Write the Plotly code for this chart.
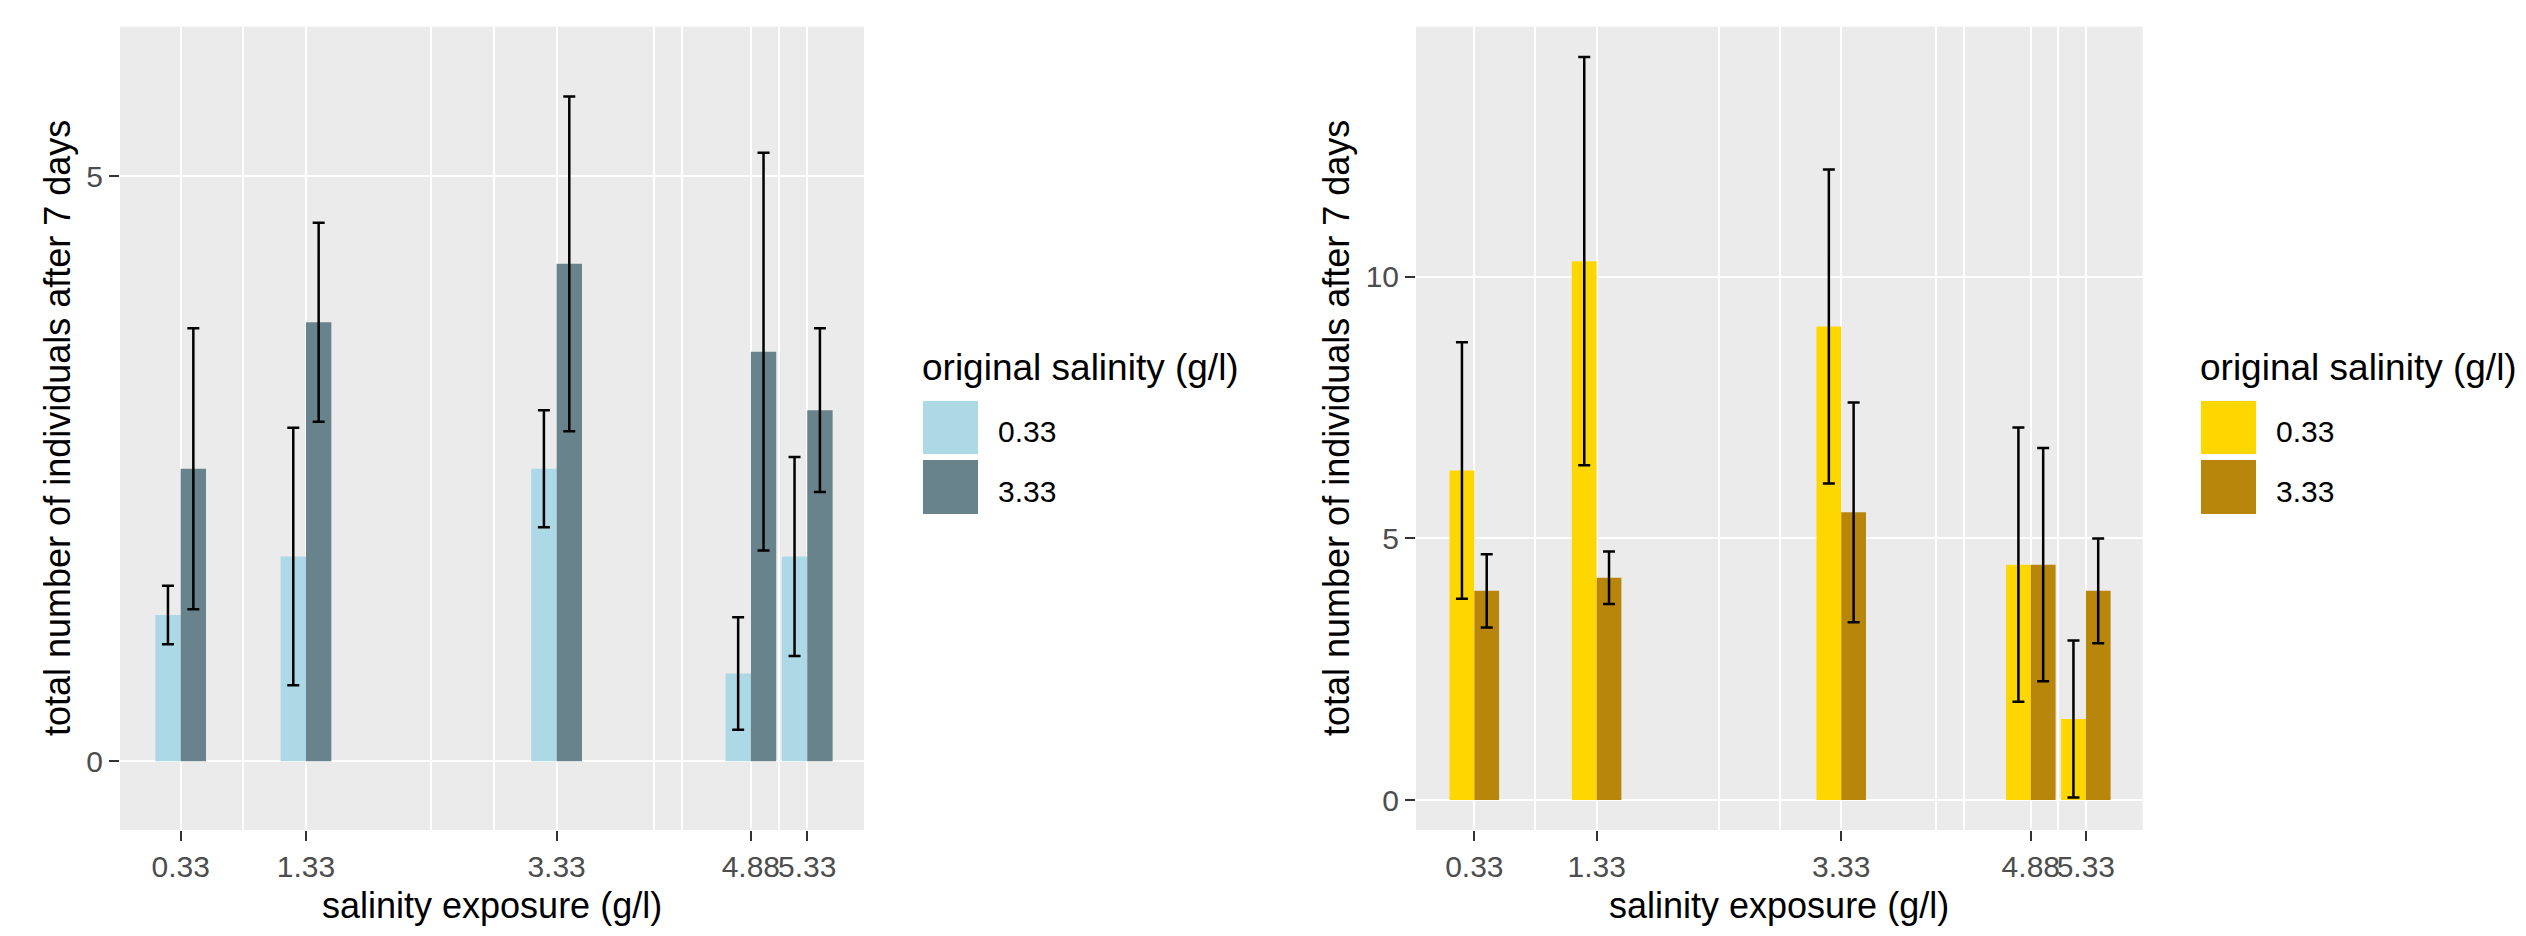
import plotly.graph_objects as go

PAGE_W, PAGE_H = 2526, 936
M = 8  # default body margin of the html page
W, H = PAGE_W - 2 * M, PAGE_H - 2 * M

# ---------------- data ----------------
exposure = [0.33, 1.33, 3.33, 4.88, 5.33]
tick_labels = ["0.33", "1.33", "3.33", "4.88", "5.33"]
groups = ["0.33", "3.33"]

# left panel (blue)
blue_033_mean = [1.25, 1.75, 2.5, 0.75, 1.75]
blue_033_err = [0.25, 1.1, 0.5, 0.48, 0.85]
blue_333_mean = [2.5, 3.75, 4.25, 3.5, 3.0]
blue_333_err = [1.2, 0.85, 1.43, 1.7, 0.7]

# right panel (gold)
gold_033_mean = [6.3, 10.3, 9.05, 4.5, 1.55]
gold_033_err = [2.45, 3.9, 3.0, 2.62, 1.5]
gold_333_mean = [4.0, 4.25, 5.5, 4.5, 4.0]
gold_333_err = [0.7, 0.5, 2.1, 2.23, 1.0]

blue_colors = ["#ADD8E6", "#68838B"]
gold_colors = ["#FFD700", "#B8860B"]

minor_x = [0.83, 2.33, 2.83, 4.105, 4.33, 5.105]

FONT = "Liberation Sans, Arial, sans-serif"
BAR_W = 0.2025


def px(x):
    return (x - M) / W


def py(y):
    return 1 - (y - M) / H


fig = go.Figure()


def add_panel(means, errs, colors, xa, ya):
    for i, (m, e) in enumerate(zip(means, errs)):
        fig.add_trace(go.Bar(
            x=exposure, y=m, width=BAR_W, offset=-BAR_W if i == 0 else 0,
            marker=dict(color=colors[i], line=dict(width=0)),
            error_y=dict(type="data", array=e, visible=True, color="black",
                         thickness=2.5, width=6),
            xaxis=xa, yaxis=ya, showlegend=False, name=groups[i],
        ))


add_panel([blue_033_mean, blue_333_mean], [blue_033_err, blue_333_err], blue_colors, "x", "y")
add_panel([gold_033_mean, gold_333_mean], [gold_033_err, gold_333_err], gold_colors, "x2", "y2")

ydom = [py(830), py(26.7)]
common_x = dict(
    tickmode="array", tickvals=exposure, ticktext=tick_labels, tickangle=0,
    showgrid=True, gridcolor="white", gridwidth=2,
    minor=dict(tickmode="array", tickvals=minor_x, showgrid=True,
               gridcolor="white", gridwidth=1.5, ticklen=0),
    ticks="outside", ticklen=10, tickwidth=2, tickcolor="#333333",
    tickfont=dict(family=FONT, size=30, color="#4D4D4D"),
    zeroline=False, showline=False, fixedrange=True,
)
common_y = dict(
    showgrid=True, gridcolor="white", gridwidth=2,
    ticks="outside", ticklen=10, tickwidth=2, tickcolor="#333333",
    tickfont=dict(family=FONT, size=30, color="#4D4D4D"),
    zeroline=False, showline=False, fixedrange=True,
)

fig.update_layout(
    width=W, height=H,
    margin=dict(l=0, r=0, t=0, b=0),
    paper_bgcolor="white", plot_bgcolor="#EBEBEB",
    barmode="overlay", showlegend=False,
    font=dict(family=FONT, color="black"),
    xaxis=dict(domain=[px(120), px(864)], range=[-0.154, 5.783], anchor="y", **common_x),
    yaxis=dict(domain=ydom, range=[-0.587, 6.276], anchor="x",
               tickvals=[0, 5], ticktext=["0", "5"], **common_y),
    xaxis2=dict(domain=[px(1416), px(2142.7)], range=[-0.147, 5.795], anchor="y2", **common_x),
    yaxis2=dict(domain=ydom, range=[-0.571, 14.78], anchor="x2",
                tickvals=[0, 5, 10], ticktext=["0", "5", "10"], **common_y),
)

ann = []
# axis titles
for cx, cy_title in [((120 + 864) / 2, 57), ((1416 + 2142.7) / 2, 1336)]:
    ann.append(dict(x=px(cx), y=py(928), xref="paper", yref="paper",
                    text="salinity exposure (g/l)", showarrow=False,
                    font=dict(size=36, color="black", family=FONT),
                    xanchor="center", yanchor="bottom"))
    ann.append(dict(x=px(cy_title), y=py(428), xref="paper", yref="paper",
                    text="total number of individuals after 7 days", showarrow=False,
                    textangle=-90, font=dict(size=36, color="black", family=FONT),
                    xanchor="center", yanchor="middle"))

# legends (drawn as keys + labels)
shapes = []
for lx, colors in [(923, blue_colors), (2201, gold_colors)]:
    ann.append(dict(x=px(lx - 3), y=py(367), xref="paper", yref="paper",
                    text="original salinity (g/l)", showarrow=False,
                    font=dict(size=37, color="black", family=FONT),
                    xanchor="left", yanchor="middle"))
    for k, (top, bot) in enumerate([(401, 454), (460, 514)]):
        shapes.append(dict(type="rect", xref="paper", yref="paper",
                           x0=px(lx), x1=px(lx + 55), y0=py(bot), y1=py(top),
                           fillcolor=colors[k], line=dict(width=0), layer="above"))
        ann.append(dict(x=px(lx + 73), y=py((top + bot) / 2 + 4), xref="paper", yref="paper",
                        text=groups[k], showarrow=False,
                        font=dict(size=30, color="black", family=FONT),
                        xanchor="left", yanchor="middle"))

fig.update_layout(annotations=ann, shapes=shapes)
fig.write_html("out.html")
